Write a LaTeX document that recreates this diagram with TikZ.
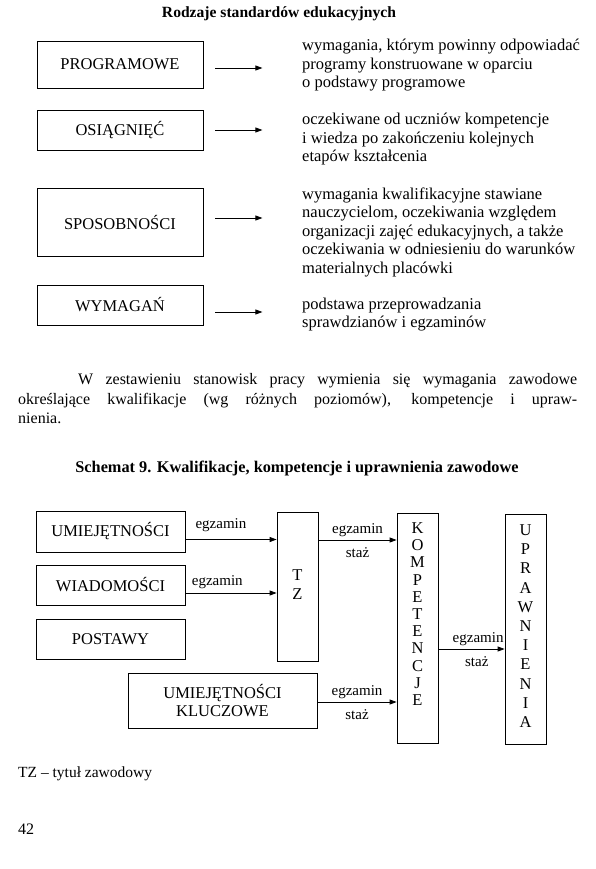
\documentclass[tikz,border=0pt]{standalone}
\usepackage{fontspec}
\setmainfont{Liberation Serif}
\usetikzlibrary{arrows.meta}

\begin{document}
\begin{tikzpicture}[x=1pt, y=-1pt, >={Triangle[length=7pt, width=5pt]}]

\tikzset{
  stdbox/.style={draw, line width=0.8pt, minimum width=166pt, inner sep=0pt, font=\fontsize{16.5}{19}\selectfont},
  stddesc/.style={anchor=north west, align=left, inner sep=0pt, font=\fontsize{16.5}{18.5}\selectfont},
  pointer/.style={->, line width=0.8pt},
  schbox/.style={draw, line width=0.8pt, inner sep=0pt, font=\fontsize{16.5}{18}\selectfont},
  vword/.style={align=center, inner sep=0pt},
  edgelabel/.style={font=\fontsize{15}{16}\selectfont, inner sep=0pt},
}

\useasboundingbox (0,0) rectangle (596,869);

\node[anchor=base, font=\fontsize{15.6}{19}\selectfont\bfseries] (title1) at (279,17.5) {Rodzaje standardów edukacyjnych};

\node[stdbox, minimum height=47pt] (prog) at (120,64.5) {PROGRAMOWE};
\node[stdbox, minimum height=40pt] (osiag) at (120,130) {OSIĄGNIĘĆ};
\node[stdbox, minimum height=68pt] (sposob) at (120,222) {SPOSOBNOŚCI};
\node[stdbox, minimum height=40pt] (wymag) at (120,305) {WYMAGAŃ};

\node[stddesc] (progdesc) at (302,39) {wymagania, którym powinny odpowiadać\\programy konstruowane w oparciu\\o podstawy programowe};
\node[stddesc] (osiagdesc) at (302,113) {oczekiwane od uczniów kompetencje\\i wiedza po zakończeniu kolejnych\\etapów kształcenia};
\node[stddesc] (sposobdesc) at (302,187.5) {wymagania kwalifikacyjne stawiane\\nauczycielom, oczekiwania względem\\organizacji zajęć edukacyjnych, a także\\oczekiwania w odniesieniu do warunków\\materialnych placówki};
\node[stddesc] (wymagdesc) at (302,297.5) {podstawa przeprowadzania\\sprawdzianów i egzaminów};

\draw[pointer] ([xshift=12pt, yshift=-3.5pt]prog.east) -- ++(47,0);
\draw[pointer] ([xshift=12pt]osiag.east) -- ++(47,0);
\draw[pointer] ([xshift=12pt, yshift=4pt]sposob.east) -- ++(47,0);
\draw[pointer] ([xshift=12pt, yshift=-7pt]wymag.east) -- ++(47,0);

\node[anchor=north west, text width=559pt, align=justify, inner sep=0pt, font=\fontsize{16}{19.5}\selectfont] (para) at (18,373.5) {\tolerance=9999\hspace*{60pt}W zestawieniu stanowisk pracy wymienia się wymagania zawodowe\linebreak określające kwalifikacje (wg różnych poziomów), kompetencje i upraw-\linebreak nienia.};

\node[anchor=base, font=\fontsize{16.3}{19}\selectfont\bfseries] (title2) at (297,472.5) {Schemat 9. Kwalifikacje, kompetencje i uprawnienia zawodowe};

\node[schbox, minimum width=149pt, minimum height=41pt] (umiej) at (110.5,531.5) {UMIEJĘTNOŚCI};
\node[schbox, minimum width=149pt, minimum height=40pt] (wiad) at (110.5,585) {WIADOMOŚCI};
\node[schbox, minimum width=149pt, minimum height=40pt] (postawy) at (110.5,639) {POSTAWY};
\node[schbox, minimum width=189pt, minimum height=55pt, align=center] (klucz) at (222.5,700.5) {UMIEJĘTNOŚCI\\KLUCZOWE};

\node[schbox, minimum width=41pt, minimum height=149pt] (tz) at (297.5,586.5) {};
\node[schbox, minimum width=41pt, minimum height=230pt] (komp) at (417.5,628) {};
\node[schbox, minimum width=41pt, minimum height=230pt] (upraw) at (525.5,629) {};

\node[vword, font=\fontsize{16.5}{19}\selectfont] (tzword) at ([yshift=1.5pt]tz.center) {T\\Z};
\node[vword, font=\fontsize{16.5}{17.2}\selectfont] (kompword) at ([yshift=14pt]komp.center) {K\\O\\M\\P\\E\\T\\E\\N\\C\\J\\E};
\node[vword, font=\fontsize{16.5}{19.2}\selectfont] (uprawword) at ([yshift=3pt]upraw.center) {U\\P\\R\\A\\W\\N\\I\\E\\N\\I\\A};

\draw[pointer] ([yshift=-8pt]umiej.east) -- ([yshift=-8pt]umiej.east -| tz.west)
  node[edgelabel, pos=0.39, above=7.5pt] {egzamin};
\draw[pointer] ([yshift=-8pt]wiad.east) -- ([yshift=-8pt]wiad.east -| tz.west)
  node[edgelabel, pos=0.35, above=3.5pt] {egzamin};
\draw[pointer] ([yshift=46.5pt]tz.east) -- ([yshift=46.5pt]tz.east -| komp.west)
  node[edgelabel, pos=0.5, above=2.5pt] {egzamin}
  node[edgelabel, pos=0.5, below=7pt] {staż};
\draw[pointer] ([yshift=-21pt]komp.east) -- ([yshift=-21pt]komp.east -| upraw.west)
  node[edgelabel, pos=0.6, above=2.5pt] {egzamin}
  node[edgelabel, pos=0.58, below=7pt] {staż};
\draw[pointer] ([yshift=-1.5pt]klucz.east) -- ([yshift=-1.5pt]klucz.east -| komp.west)
  node[edgelabel, pos=0.5, above=2.5pt] {egzamin}
  node[edgelabel, pos=0.5, below=7pt] {staż};

\node[anchor=base west, inner sep=0pt, font=\fontsize{15.5}{19}\selectfont] (tzkey) at (18,777) {TZ – tytuł zawodowy};
\node[anchor=base west, inner sep=0pt, font=\fontsize{16}{19}\selectfont] (pagenum) at (18,834) {42};

\end{tikzpicture}
\end{document}
